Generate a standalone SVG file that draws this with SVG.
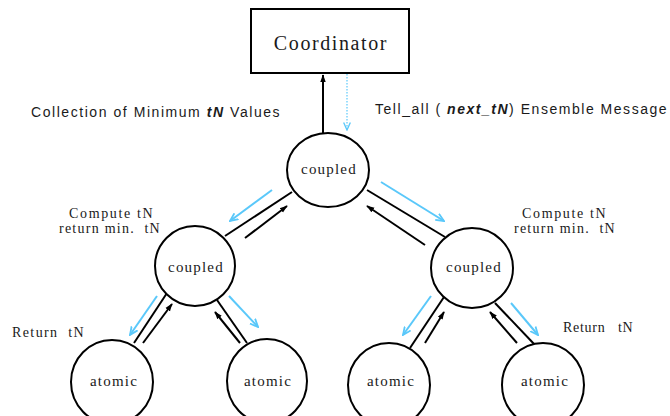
<svg xmlns="http://www.w3.org/2000/svg" width="670" height="416" viewBox="0 0 670 416">
  <style>
    .node { fill: #ffffff; stroke: #000000; stroke-width: 2; }
    .serif { font-family: "Liberation Serif", "Times New Roman", serif; fill: #1a1a1a; }
    .sans { font-family: "Liberation Sans", Arial, sans-serif; fill: #1a1a1a; font-size: 14px; letter-spacing: 1.4px; }
    .lbl { font-size: 15px; letter-spacing: 1.2px; text-anchor: middle; }
    .note { font-size: 14px; letter-spacing: 1.3px; }
    .link { stroke: #000000; stroke-width: 2; fill: none; }
    .up { stroke: #000000; stroke-width: 2; fill: none; marker-end: url(#headBlack); }
    .down { stroke: #5ac8fa; stroke-width: 2; fill: none; marker-end: url(#headBlue); }
    .bi { font-weight: bold; font-style: italic; }
  </style>
  <defs>
    <marker id="headBlack" viewBox="0 0 10 10" refX="9" refY="5" markerWidth="4" markerHeight="4" orient="auto" markerUnits="strokeWidth">
      <path d="M0,1.5 L10,5 L0,8.5 Z" fill="#000000"/>
    </marker>
    <marker id="headBlue" viewBox="0 0 10 10" refX="9" refY="5" markerWidth="4.5" markerHeight="4.5" orient="auto" markerUnits="strokeWidth">
      <path d="M0,1 L9,5 L0,9" fill="none" stroke="#5ac8fa" stroke-width="2"/>
    </marker>
    <marker id="headBlueThin" viewBox="0 0 10 10" refX="9" refY="5" markerWidth="7" markerHeight="7" orient="auto" markerUnits="strokeWidth">
      <path d="M0,1 L9,5 L0,9" fill="none" stroke="#5ac8fa" stroke-width="1.6"/>
    </marker>
  </defs>

  <!-- connectors -->
  <g id="connectors">
    <!-- coordinator link -->
    <line class="up" x1="323" y1="133" x2="323" y2="75"/>
    <line x1="347" y1="74" x2="347" y2="130" stroke="#5ac8fa" stroke-width="1.2" stroke-dasharray="1.5,1.5" marker-end="url(#headBlueThin)"/>

    <!-- top coupled to left coupled -->
    <line class="link" x1="225" y1="236" x2="292" y2="192"/>
    <line class="up" x1="245" y1="238" x2="287" y2="206"/>
    <line class="down" x1="272" y1="190" x2="230" y2="221"/>

    <!-- top coupled to right coupled -->
    <line class="link" x1="367" y1="190" x2="445" y2="237"/>
    <line class="up" x1="425" y1="245" x2="367" y2="206"/>
    <line class="down" x1="381" y1="182" x2="444" y2="221"/>

    <!-- left coupled to its atomics -->
    <line class="link" x1="167" y1="293" x2="134" y2="343"/>
    <line class="up" x1="143" y1="343" x2="172" y2="304"/>
    <line class="down" x1="157" y1="296" x2="130" y2="335"/>

    <line class="link" x1="217" y1="300" x2="247" y2="343"/>
    <line class="up" x1="240" y1="343" x2="215" y2="312"/>
    <line class="down" x1="229" y1="296" x2="258" y2="327"/>

    <!-- right coupled to its atomics -->
    <line class="link" x1="444" y1="297" x2="410" y2="348"/>
    <line class="up" x1="425" y1="343" x2="444" y2="312"/>
    <line class="down" x1="431" y1="296" x2="403" y2="335"/>

    <line class="link" x1="495" y1="303" x2="535" y2="345"/>
    <line class="up" x1="517" y1="343" x2="490" y2="312"/>
    <line class="down" x1="511" y1="303" x2="538" y2="335"/>
  </g>

  <!-- nodes -->
  <g id="coordinator">
    <rect class="node" x="251" y="9" width="158" height="64"/>
    <text class="serif" x="331" y="50" font-size="20" letter-spacing="1.6" text-anchor="middle">Coordinator</text>
  </g>
  <g id="coupled-top">
    <ellipse class="node" cx="328" cy="170" rx="41" ry="37"/>
    <text class="serif lbl" x="329" y="174">coupled</text>
  </g>
  <g id="coupled-left">
    <ellipse class="node" cx="195" cy="266" rx="40" ry="40"/>
    <text class="serif lbl" x="196" y="272">coupled</text>
  </g>
  <g id="coupled-right">
    <ellipse class="node" cx="472" cy="268" rx="41" ry="40"/>
    <text class="serif lbl" x="474" y="272">coupled</text>
  </g>
  <g id="atomic-1">
    <ellipse class="node" cx="112" cy="382" rx="41" ry="42"/>
    <text class="serif lbl" x="114" y="386">atomic</text>
  </g>
  <g id="atomic-2">
    <ellipse class="node" cx="267" cy="381" rx="40" ry="42"/>
    <text class="serif lbl" x="268" y="386">atomic</text>
  </g>
  <g id="atomic-3">
    <ellipse class="node" cx="389" cy="385" rx="41" ry="42"/>
    <text class="serif lbl" x="391" y="386">atomic</text>
  </g>
  <g id="atomic-4">
    <ellipse class="node" cx="543" cy="385" rx="41" ry="42"/>
    <text class="serif lbl" x="545" y="386">atomic</text>
  </g>

  <!-- annotations -->
  <g id="labels">
    <text class="sans" x="31" y="117" textLength="250" lengthAdjust="spacing">Collection of Minimum <tspan class="bi">tN</tspan> Values</text>
    <text class="sans" x="375" y="114" textLength="293" lengthAdjust="spacing">Tell_all ( <tspan class="bi">next_tN</tspan>) Ensemble Message</text>

    <text class="serif note" x="69" y="218" textLength="85" lengthAdjust="spacing">Compute tN</text>
    <text class="serif note" x="59" y="233" textLength="102" lengthAdjust="spacing" xml:space="preserve">return min.  tN</text>

    <text class="serif note" x="522" y="218" textLength="85" lengthAdjust="spacing">Compute tN</text>
    <text class="serif note" x="514" y="233" textLength="102" lengthAdjust="spacing" xml:space="preserve">return min.  tN</text>

    <text class="serif note" x="12" y="337" textLength="73" lengthAdjust="spacing" xml:space="preserve">Return  tN</text>
    <text class="serif note" x="563" y="332" textLength="71" lengthAdjust="spacing" xml:space="preserve">Return   tN</text>
  </g>
</svg>
